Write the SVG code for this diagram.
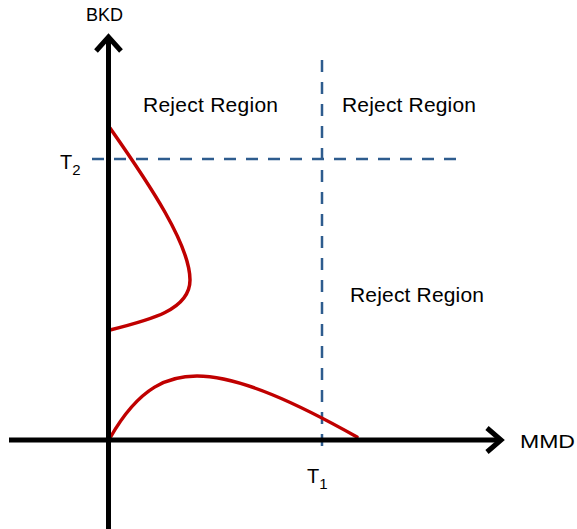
<svg xmlns="http://www.w3.org/2000/svg" width="577" height="529" viewBox="0 0 577 529">
<style>
.axis{stroke:#000;stroke-width:5;fill:none}
.head{stroke:#000;stroke-width:5;fill:none;stroke-linejoin:miter;stroke-linecap:butt}
.dash{stroke:#2E5C8E;stroke-width:2.5;stroke-dasharray:12 10;fill:none}
.curve{stroke:#C00000;stroke-width:3.5;fill:none;stroke-linecap:round}
text{font-family:"Liberation Sans",Arial,sans-serif;fill:#000}
.region{font-size:21px}
.lab{font-size:18px}
.tlab{font-size:20px}
.sub{font-size:15px}
</style>
<rect width="577" height="529" fill="#fff"/>
<g id="connectors">
  <line class="dash" x1="92" y1="159" x2="456" y2="159"/>
  <line class="dash" x1="322" y1="60" x2="322" y2="456"/>
  <path class="curve" d="M110,128 C150,185 190,245 190,280 C190,310 150,320 110,330"/>
  <path class="curve" d="M110,438 C140,385 170,376 197,376 C240,376 300,405 357,437"/>
</g>
<g id="axis-y">
  <line class="axis" x1="108.5" y1="529" x2="108.5" y2="38"/>
  <polyline class="head" points="96,51 108.5,37 121,51"/>
  <text class="lab" x="86" y="21">BKD</text>
</g>
<g id="axis-x">
  <line class="axis" x1="9" y1="440" x2="500" y2="440"/>
  <polyline class="head" points="487,428 501,440 487,452"/>
  <text class="lab" x="520" y="448" textLength="55" lengthAdjust="spacingAndGlyphs">MMD</text>
</g>
<g id="label-t2">
  <text class="tlab" x="60" y="169">T<tspan class="sub" dy="6">2</tspan></text>
</g>
<g id="label-t1">
  <text class="tlab" x="307" y="483">T<tspan class="sub" dy="6">1</tspan></text>
</g>
<g id="region-top-left">
  <text class="region" x="143" y="112" textLength="135">Reject Region</text>
</g>
<g id="region-top-right">
  <text class="region" x="342" y="112" textLength="134">Reject Region</text>
</g>
<g id="region-right">
  <text class="region" x="350" y="302" textLength="134">Reject Region</text>
</g>
</svg>
